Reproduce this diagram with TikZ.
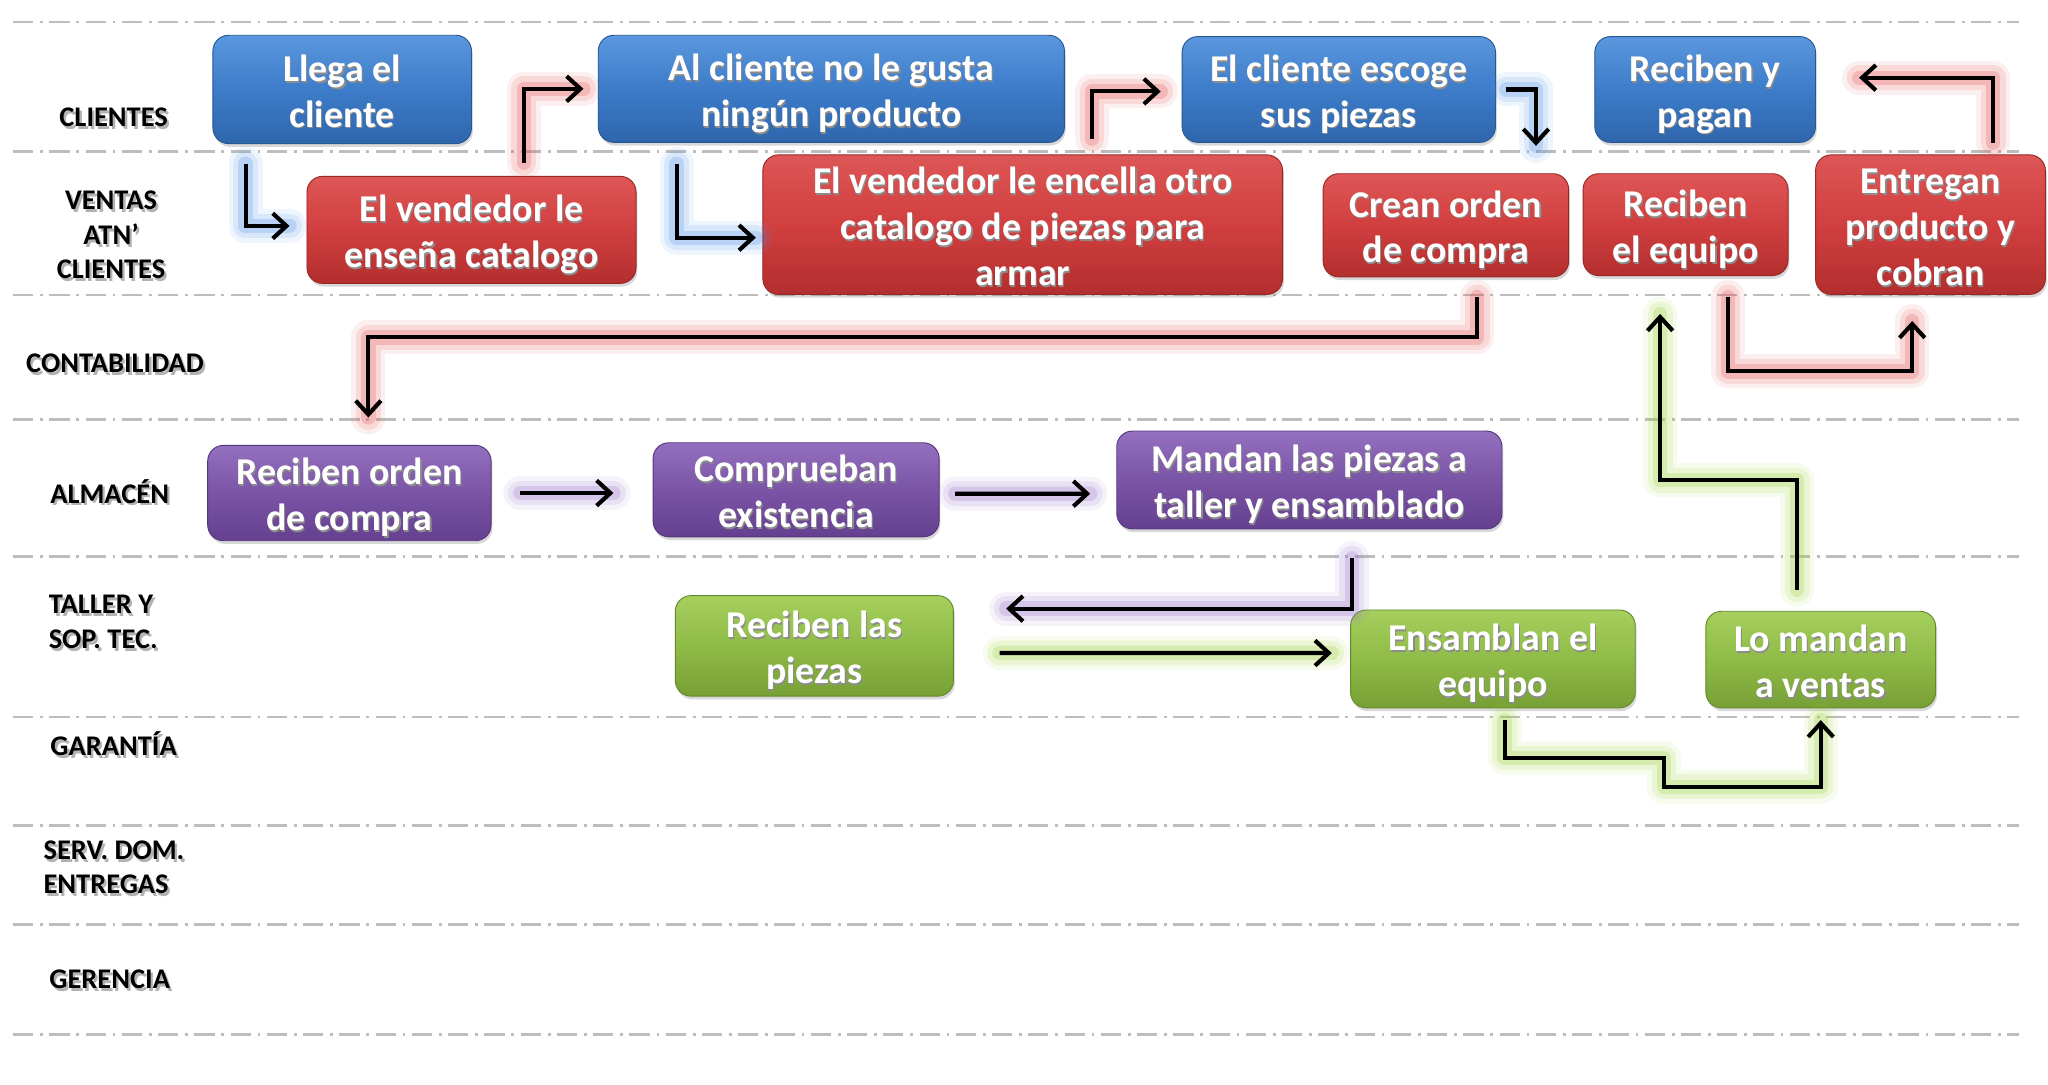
\documentclass[tikz,border=0pt]{standalone}
\usepackage{fontspec}
\setmainfont{Carlito}
\usetikzlibrary{arrows.meta,shadows}

% box colours (top / middle / bottom of the shading)
\definecolor{bluetop}{HTML}{5A97DE}
\definecolor{bluemid}{HTML}{3D7CC9}
\definecolor{bluebot}{HTML}{2E66AC}
\definecolor{redtop}{HTML}{DE5656}
\definecolor{redmid}{HTML}{D13F3F}
\definecolor{redbot}{HTML}{B32E2E}
\definecolor{purpletop}{HTML}{9370BF}
\definecolor{purplemid}{HTML}{7B54A5}
\definecolor{purplebot}{HTML}{654090}
\definecolor{greentop}{HTML}{A6CF5E}
\definecolor{greenmid}{HTML}{8FBB47}
\definecolor{greenbot}{HTML}{77A035}
% glow colours of the connectors
\definecolor{glowblue}{HTML}{4F92E8}
\definecolor{glowred}{HTML}{E84F4F}
\definecolor{glowpurple}{HTML}{9B74CC}
\definecolor{glowgreen}{HTML}{9CD33A}
\definecolor{lanegray}{HTML}{BDBDBD}

% text with a soft shadow
\newcommand{\btxt}[1]{\raisebox{-2.8pt}[\height][\depth]{\rlap{\kern0.5pt\raisebox{-0.8pt}{\color{black!45}\begin{tabular}{@{}c@{}}#1\end{tabular}}}\begin{tabular}{@{}c@{}}#1\end{tabular}}}
\newcommand{\ltxt}[2][c]{\raisebox{-1.7pt}[\height][\depth]{\rlap{\kern1pt\raisebox{-1.3pt}{\color{black!30}\begin{tabular}{@{}#1@{}}#2\end{tabular}}}\begin{tabular}{@{}#1@{}}#2\end{tabular}}}

\tikzset{
  cbox/.style={rounded corners=0.24cm, inner sep=0pt, text=white,
    top color=#1top, bottom color=#1bot, middle color=#1mid,
    draw=#1bot!85!black, line width=0.4pt,
    font=\fontsize{16.5}{20}\selectfont\bfseries,
    drop shadow={shadow xshift=0.6pt, shadow yshift=-1.4pt, opacity=0.3}},
  lane/.style={font=\fontsize{12.4}{15}\selectfont\bfseries, inner sep=0pt},
  lanesep/.style={draw=lanegray, line width=1.1pt,
    dash pattern=on 8.8pt off 3pt on 1.2pt off 2.8pt},
  flow/.style={draw=black, line width=1.8pt,
    -{Straight Barb[length=6pt,width=11pt]},
    preaction={draw=#1, draw opacity=0.09, line width=0.52cm, arrows=-, line cap=round, line join=round},
    preaction={draw=#1, draw opacity=0.14, line width=0.38cm, arrows=-, line cap=round, line join=round},
    preaction={draw=#1, draw opacity=0.24, line width=0.22cm, arrows=-, line cap=round, line join=round}},
}

\begin{document}
\begin{tikzpicture}[x=0.02cm, y=-0.02cm]
\path[use as bounding box, fill=white] (0,0) rectangle (1568,830);

%=== Lanes ===
\foreach \ly in {17,116,226,321,426,549,632,708,792} {
  \draw[lanesep] (10,\ly) -- (1546,\ly);
}
\node[lane] (lclientes) at (87,90) {\ltxt{CLIENTES}};
\node[lane] (lventas) at (85,180) {\ltxt{VENTAS\\ATN’\\CLIENTES}};
\node[lane] (lconta) at (88,278) {\ltxt{CONTABILIDAD}};
\node[lane] (lalmacen) at (84,378) {\ltxt{ALMACÉN}};
\node[lane,anchor=west] (ltaller) at (37,476) {\ltxt[l]{TALLER Y\\SOP. TEC.}};
\node[lane] (lgarantia) at (87,571) {\ltxt{GARANTÍA}};
\node[lane,anchor=west] (lserv) at (33,664) {\ltxt[l]{SERV. DOM.\\ENTREGAS}};
\node[lane] (lgerencia) at (84,750) {\ltxt{GERENCIA}};

%=== Clientes (blue) ===
\node[cbox=blue, minimum width=3.96cm, minimum height=1.66cm] (llega) at (262,68.5) {\btxt{Llega el\\cliente}};
\node[cbox=blue, minimum width=7.14cm, minimum height=1.64cm] (nogusta) at (636.5,68) {\btxt{Al cliente no le gusta\\ningún producto}};
\node[cbox=blue, minimum width=4.8cm, minimum height=1.62cm] (escoge) at (1025,68.5) {\btxt{El cliente escoge\\sus piezas}};
\node[cbox=blue, minimum width=3.38cm, minimum height=1.62cm] (pagan) at (1305.5,68.5) {\btxt{Reciben y\\pagan}};

%=== Ventas (red) ===
\node[cbox=red, minimum width=5.04cm, minimum height=1.64cm] (ensena) at (361,176) {\btxt{El vendedor le\\enseña catalogo}};
\node[cbox=red, minimum width=7.96cm, minimum height=1.92cm] (encella) at (783,172) {\btxt{El vendedor le encella otro\\catalogo de piezas para\\armar}};
\node[cbox=red, minimum width=3.76cm, minimum height=1.58cm] (crean) at (1107,172.5) {\btxt{Crean orden\\de compra}};
\node[cbox=red, minimum width=3.14cm, minimum height=1.56cm] (recequipo) at (1290.5,172) {\btxt{Reciben\\el equipo}};
\node[cbox=red, minimum width=3.52cm, minimum height=1.92cm] (entregan) at (1478,172) {\btxt{Entregan\\producto y\\cobran}};

%=== Almacen (purple) ===
\node[cbox=purple, minimum width=4.34cm, minimum height=1.46cm] (recorden) at (267.5,377.5) {\btxt{Reciben orden\\de compra}};
\node[cbox=purple, minimum width=4.38cm, minimum height=1.44cm] (comprueban) at (609.5,375) {\btxt{Comprueban\\existencia}};
\node[cbox=purple, minimum width=5.9cm, minimum height=1.5cm] (mandan) at (1002.5,367.5) {\btxt{Mandan las piezas a\\taller y ensamblado}};

%=== Taller (green) ===
\node[cbox=green, minimum width=4.26cm, minimum height=1.54cm] (recpiezas) at (623.5,494.5) {\btxt{Reciben las\\piezas}};
\node[cbox=green, minimum width=4.36cm, minimum height=1.5cm] (ensamblan) at (1143,504.5) {\btxt{Ensamblan el\\equipo}};
\node[cbox=green, minimum width=3.52cm, minimum height=1.48cm] (lomandan) at (1394,505) {\btxt{Lo mandan\\a ventas}};

%=== Connectors ===
\draw[flow=glowblue, shorten <=0.3cm, shorten >=0.26cm] ([xshift=-1.48cm]llega.south) |- ([yshift=0.06cm]ensena.west);
\draw[flow=glowred, shorten <=0.2cm, shorten >=0.22cm] ([xshift=0.8cm]ensena.north) |- (nogusta.west);
\draw[flow=glowblue, shorten <=0.32cm, shorten >=0.1cm] ([xshift=-2.37cm]nogusta.south) |- ([yshift=-0.2cm]encella.west);
\draw[flow=glowred, shorten <=0.24cm, shorten >=0.32cm] ([xshift=1.06cm]encella.north) |- ([yshift=-0.03cm]escoge.west);
\draw[flow=glowblue, shorten <=0.16cm, shorten >=0.42cm] (escoge.east) -| ([xshift=1.38cm]crean.north);
\draw[flow=glowred, shorten <=0.18cm, shorten >=0.66cm] ([xshift=0.96cm]entregan.north) |- ([yshift=0.18cm]pagan.east);
% orden de compra to almacen
\draw[flow=glowred, shorten <=0.3cm, shorten >=0.42cm] ([xshift=0.48cm]crean.south) -- ++(0,46) -| ([xshift=0.29cm]recorden.north);
\draw[flow=glowpurple, shorten <=0.44cm, shorten >=0.6cm] (recorden.east) -- (recorden.east -| comprueban.west);
\draw[flow=glowpurple, shorten <=0.24cm, shorten >=0.4cm] ([yshift=-0.06cm]comprueban.east) -- ([yshift=-0.21cm]mandan.west);
\draw[flow=glowpurple, shorten <=0.44cm, shorten >=0.8cm] ([xshift=0.65cm]mandan.south) |- ([yshift=0.57cm]recpiezas.east);
\draw[flow=glowgreen, shorten <=0.7cm, shorten >=0.28cm] ([yshift=-0.11cm]recpiezas.east) -- ([yshift=0.09cm]ensamblan.west);
\draw[flow=glowgreen, shorten <=0.18cm, shorten >=0.18cm] ([xshift=0.18cm]ensamblan.south) -- ++(0,38) -| ++(122,22) -| (lomandan.south);
% back to ventas
\draw[flow=glowgreen, shorten <=0.32cm, shorten >=0.58cm] ([xshift=-0.36cm]lomandan.north) -- ++(0,-100) -| ([xshift=-0.39cm]recequipo.south);
\draw[flow=glowred, shorten <=0.32cm, shorten >=0.4cm] ([xshift=0.65cm]recequipo.south) -- ++(0,73) -| ([xshift=-0.28cm]entregan.south);

\end{tikzpicture}
\end{document}
